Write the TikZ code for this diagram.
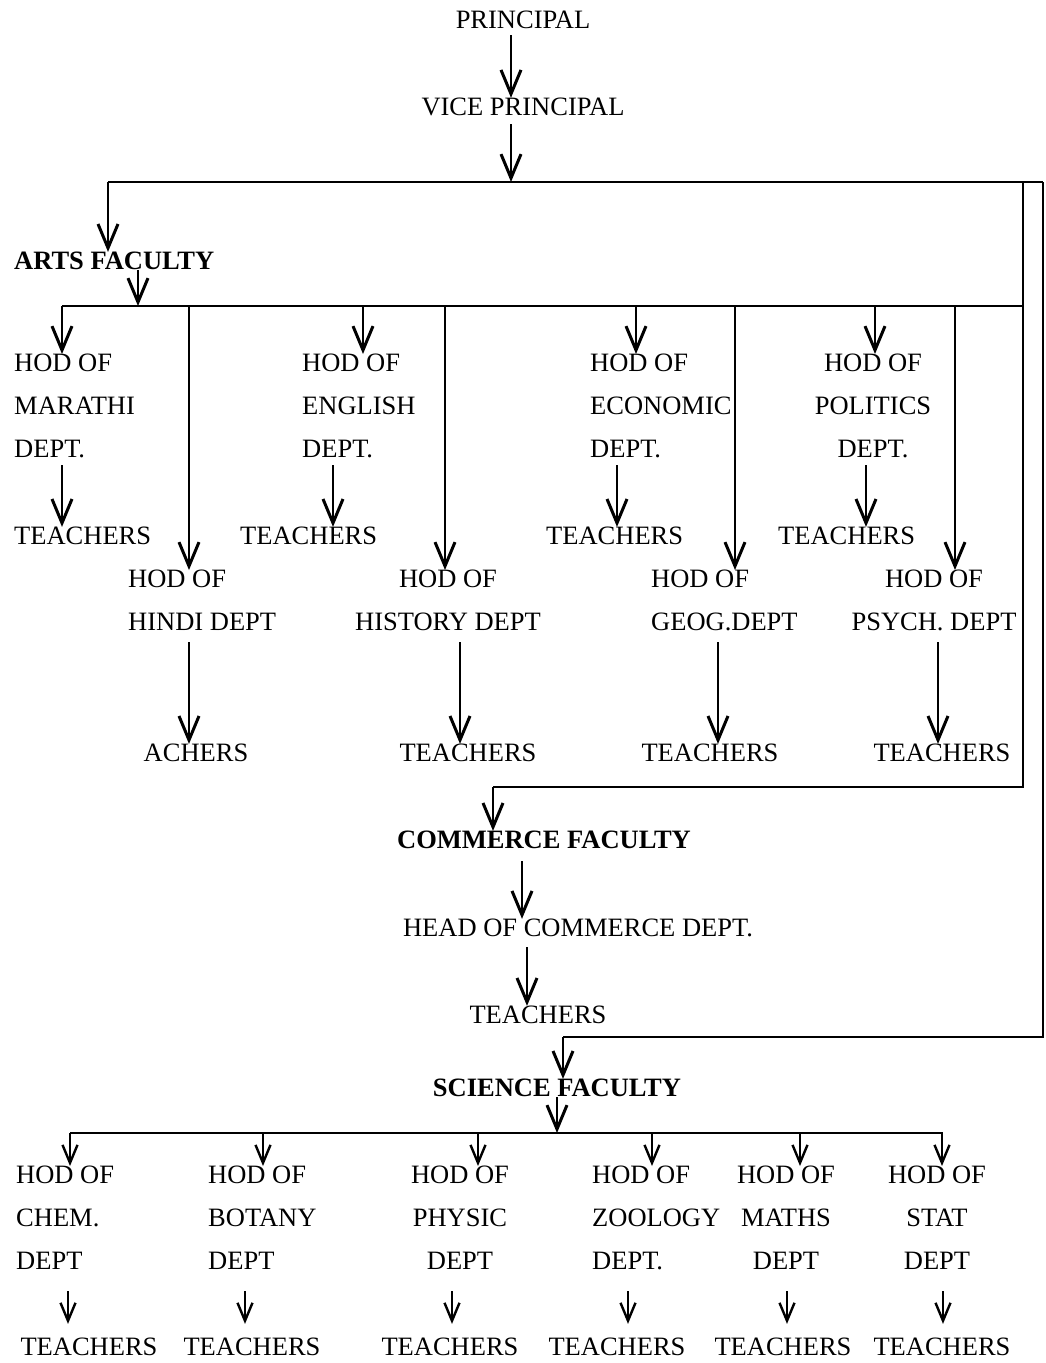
\documentclass[tikz,border=0pt]{standalone}
\usepackage{fontspec}
\setmainfont{Liberation Serif}
\usetikzlibrary{arrows.meta}
\begin{document}
\begin{tikzpicture}[x=1pt,y=-1pt,
  lbl/.style={inner sep=0pt, font=\fontsize{26.5}{43}\selectfont},
  blk/.style={lbl, align=left, anchor=north west},
  blkc/.style={lbl, align=center, anchor=north},
  bold/.style={inner sep=0pt, font=\fontsize{26.5}{43}\selectfont\bfseries},
  wire/.style={line width=2.8pt},
  arr/.style={line width=2.2pt, -{Straight Barb[length=24pt,width=20pt,line width=3pt]}},
  sarr/.style={line width=1.8pt, -{Straight Barb[length=18pt,width=15pt,line width=2.4pt]}},
]
\fill[white] (0,0) rectangle (1045,1363);
\useasboundingbox (0,0) rectangle (1045,1363);

% top
\node[lbl] (prin) at (523,20) {PRINCIPAL};
\node[lbl] (vp) at (523,107) {VICE PRINCIPAL};
\draw[arr] (511,0 |- prin.south) ++(0,6) -- (511,0 |- vp.north) ;
\coordinate (top) at (511,182);
\draw[arr] (511,0 |- vp.south) ++(0,8) -- (top);

% main buses
\coordinate (tl) at (108,182);
\coordinate (tr) at (1043,182);
\coordinate (tri) at (1023,182);
\draw[wire] (tl) -- (tr);

% ARTS
\node[bold, anchor=west] (arts) at (14,261) {ARTS FACULTY};
\draw[arr] (tl) -- (108,0 |- arts.north);
\coordinate (ab) at (138,306);
\draw[wire] (62,306) -- (1023,306);
\draw[arr] (138,0 |- arts.south) -- (ab);

% arts row 1
\node[blk] (mar) at (14,354) {HOD OF\\MARATHI\\DEPT.};
\node[blk] (eng) at (302,354) {HOD OF\\ENGLISH\\DEPT.};
\node[blk] (eco) at (590,354) {HOD OF\\ECONOMIC\\DEPT.};
\node[blkc] (pol) at (873,354) {HOD OF\\POLITICS\\DEPT.};
\foreach \x/\n in {62/mar,363/eng,636/eco,875/pol}
  \draw[arr] (\x,306) -- (\x,0 |- \n.north);

\node[lbl, anchor=west] (ta1) at (14,536) {TEACHERS};
\node[lbl, anchor=west] (ta2) at (240,536) {TEACHERS};
\node[lbl, anchor=west] (ta3) at (546,536) {TEACHERS};
\node[lbl, anchor=west] (ta4) at (778,536) {TEACHERS};
\draw[arr] (62,0 |- mar.south) ++(0,7) -- (62,0 |- ta1.north);
\draw[arr] (333,0 |- eng.south) ++(0,7) -- (333,0 |- ta2.north);
\draw[arr] (617,0 |- eco.south) ++(0,7) -- (617,0 |- ta3.north);
\draw[arr] (866,0 |- pol.south) ++(0,7) -- (866,0 |- ta4.north);

% arts row 2
\node[blk] (hin) at (128,570) {HOD OF\\HINDI DEPT};
\node[blkc] (his) at (448,570) {HOD OF\\HISTORY DEPT};
\node[blk] (geo) at (651,570) {HOD OF\\GEOG.DEPT};
\node[blkc] (psy) at (934,570) {HOD OF\\PSYCH. DEPT};
\foreach \x/\n in {189/hin,445/his,735/geo,955/psy}
  \draw[arr] (\x,306) -- (\x,0 |- \n.north);

\node[lbl] (ta5) at (196,753) {ACHERS};
\node[lbl] (ta6) at (468,753) {TEACHERS};
\node[lbl] (ta7) at (710,753) {TEACHERS};
\node[lbl] (ta8) at (942,753) {TEACHERS};
\draw[arr] (189,0 |- hin.south) ++(0,11) -- (189,0 |- ta5.north);
\draw[arr] (460,0 |- his.south) ++(0,11) -- (460,0 |- ta6.north);
\draw[arr] (718,0 |- geo.south) ++(0,11) -- (718,0 |- ta7.north);
\draw[arr] (938,0 |- psy.south) ++(0,11) -- (938,0 |- ta8.north);

% COMMERCE
\node[bold] (com) at (544,840) {COMMERCE FACULTY};
\coordinate (ci) at (1023,787);
\draw[wire] (tri) -- (ci) -- (493,787);
\draw[arr] (493,787) -- (493,0 |- com.north);
\node[lbl] (hcom) at (578,928) {HEAD OF COMMERCE DEPT.};
\draw[arr] (522,0 |- com.south) ++(0,12) -- (522,0 |- hcom.north);
\node[lbl] (tc) at (538,1015) {TEACHERS};
\draw[arr] (527,0 |- hcom.south) ++(0,10) -- (527,0 |- tc.north);

% SCIENCE
\node[bold] (sci) at (557,1088) {SCIENCE FACULTY};
\coordinate (co) at (1043,1037);
\draw[wire] (tr) -- (co) -- (563,1037);
\draw[arr] (563,1037) -- (563,0 |- sci.north);
\coordinate (sb) at (557,1133);
\draw[wire] (70,1133) -- (943,1133);
\draw[arr] (sci.south) -- (sb);

\node[blk] (che) at (16,1166) {HOD OF\\CHEM.\\DEPT};
\node[blk] (bot) at (208,1166) {HOD OF\\BOTANY\\DEPT};
\node[blkc] (phy) at (460,1166) {HOD OF\\PHYSIC\\DEPT};
\node[blk] (zoo) at (592,1166) {HOD OF\\ZOOLOGY\\DEPT.};
\node[blkc] (mat) at (786,1166) {HOD OF\\MATHS\\DEPT};
\node[blkc] (sta) at (937,1166) {HOD OF\\STAT\\DEPT};
\foreach \x/\n in {70/che,263/bot,478/phy,652/zoo,800/mat,942/sta}
  \draw[sarr] (\x,1133) -- (\x,0 |- \n.north);

\node[lbl] (ts1) at (89,1347) {TEACHERS};
\node[lbl] (ts2) at (252,1347) {TEACHERS};
\node[lbl] (ts3) at (450,1347) {TEACHERS};
\node[lbl] (ts4) at (617,1347) {TEACHERS};
\node[lbl] (ts5) at (783,1347) {TEACHERS};
\node[lbl] (ts6) at (942,1347) {TEACHERS};
\draw[sarr] (68,0 |- che.south) ++(0,21) -- ([yshift=14pt]68,0 |- ts1.north);
\draw[sarr] (245,0 |- bot.south) ++(0,21) -- ([yshift=14pt]245,0 |- ts2.north);
\draw[sarr] (452,0 |- phy.south) ++(0,21) -- ([yshift=14pt]452,0 |- ts3.north);
\draw[sarr] (628,0 |- zoo.south) ++(0,21) -- ([yshift=14pt]628,0 |- ts4.north);
\draw[sarr] (787,0 |- mat.south) ++(0,21) -- ([yshift=14pt]787,0 |- ts5.north);
\draw[sarr] (943,0 |- sta.south) ++(0,21) -- ([yshift=14pt]943,0 |- ts6.north);
\end{tikzpicture}
\end{document}
